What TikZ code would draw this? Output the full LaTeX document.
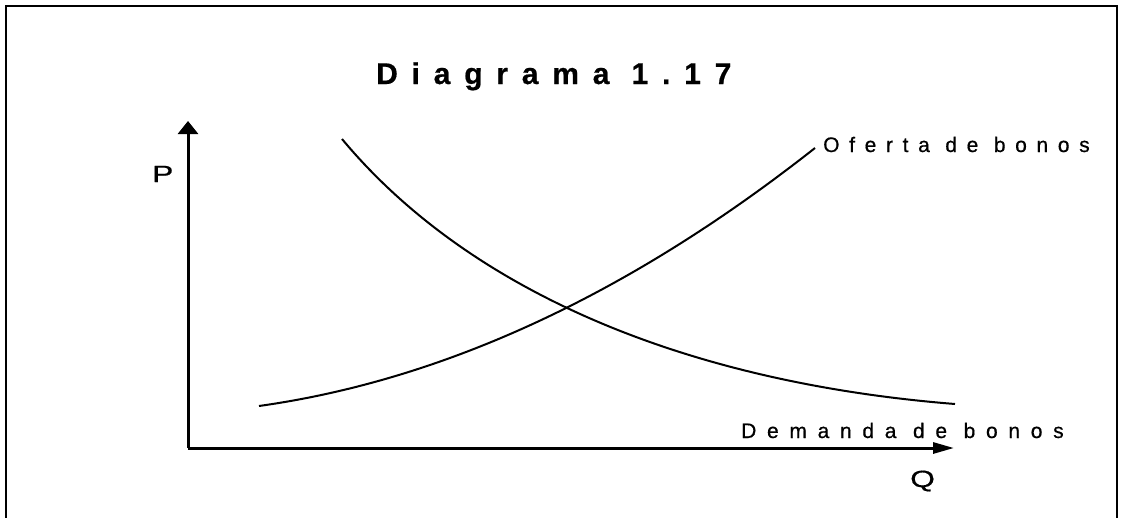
\documentclass[tikz,border=0pt]{standalone}
\usepackage{fontspec}
\setmainfont{Liberation Sans}
\usetikzlibrary{arrows.meta}
\begin{document}
\begin{tikzpicture}[x=1pt,y=-1pt,
  axisline/.style={line width=3pt},
  curveline/.style={line width=2pt},
  lbl/.style={inner sep=0pt, anchor=base west},
  axlbl/.style={inner sep=0pt, anchor=base west, font=\fontsize{23.5}{27}\selectfont\addfontfeature{FakeStretch=1.35,FakeBold=0.6}},
  ttl/.style={inner sep=0pt, anchor=base west, font=\fontsize{30}{35}\selectfont\bfseries\addfontfeature{LetterSpace=46,FakeBold=0.6}}]
\useasboundingbox (0,0) rectangle (1122,517);
\begin{scope}
  \clip (0,0) rectangle (1122,517);
  \draw[line width=2pt] (6,6) rectangle (1117,540);
\end{scope}
% axes
\coordinate (O) at (188,448);
\coordinate (Ptip) at (188,121);
\coordinate (Qtip) at (954,448);
\draw[axisline, -{Triangle[length=13pt,width=20pt]}] (O) -- (Ptip);
\draw[axisline, -{Triangle[length=21pt,width=11pt]}] (O) -- (Qtip);
% supply curve (parabola)
\coordinate (S0) at (259,406);
\coordinate (S1) at (815,148);
\draw[curveline] (S0) .. controls (444.3,380) and (629.7,294) .. (S1);
% demand curve
\coordinate (D0) at (342,139);
\coordinate (D1) at (955,404);
\draw[curveline] (D0) .. controls (467.3,289.4) and (681.9,382.2) .. (D1);
% labels
\node[ttl] (title) at (376,84) {Diagrama 1.17};
\node[lbl, font=\fontsize{21}{25}\selectfont\addfontfeature{LetterSpace=46,FakeBold=0.6}] (oferta) at (823,152) {Oferta de bonos};
\node[lbl, font=\fontsize{21}{25}\selectfont\addfontfeature{LetterSpace=51,FakeBold=0.6}] (demanda) at (741,438) {Demanda de bonos};
\node[axlbl] (P) at (152,182) {P};
\node[axlbl] (Q) at (910,487) {Q};
\end{tikzpicture}
\end{document}
